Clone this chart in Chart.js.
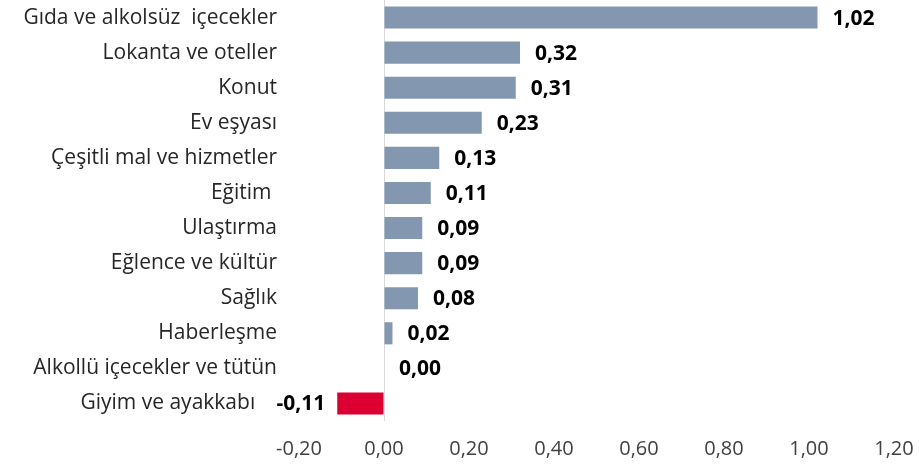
<!DOCTYPE html>
<html>
<head>
<meta charset="utf-8">
<script src="https://cdn.jsdelivr.net/npm/chart.js@4"></script>
<style>
  html, body { margin: 0; padding: 0; background: #fff; }
  #wrap { width: 919px; height: 471px; }
</style>
</head>
<body>
<div id="wrap"><canvas id="barChart"></canvas></div>
<script>
const categories = [
    'Gıda ve alkolsüz  içecekler',
    'Lokanta ve oteller',
    'Konut',
    'Ev eşyası',
    'Çeşitli mal ve hizmetler',
    'Eğitim ',
    'Ulaştırma',
    'Eğlence ve kültür',
    'Sağlık',
    'Haberleşme',
    'Alkollü içecekler ve tütün',
    'Giyim ve ayakkabı    '
];
const values = [1.02, 0.32, 0.31, 0.23, 0.13, 0.11, 0.09, 0.09, 0.08, 0.02, 0.00, -0.11];
const tickValues = [-0.2, 0, 0.2, 0.4, 0.6, 0.8, 1.0, 1.2];

const fmt = v => v.toFixed(2).replace('.', ',');

// bold value labels at the bar ends
const valueLabels = {
    id: 'valueLabels',
    afterDatasetsDraw(chart) {
        const ctx = chart.ctx;
        const meta = chart.getDatasetMeta(0);
        ctx.save();
        ctx.font = 'bold 21px "Open Sans"';
        ctx.fillStyle = '#000';
        ctx.textBaseline = 'middle';
        meta.data.forEach((bar, i) => {
            const v = values[i];
            if (v < 0) {
                ctx.textAlign = 'right';
                ctx.fillText(fmt(v), bar.x - 12, bar.y + 1);
            } else {
                ctx.textAlign = 'left';
                ctx.fillText(fmt(v), bar.x + 15, bar.y + 1);
            }
        });
        ctx.restore();
    }
};

new Chart(document.getElementById('barChart'), {
    type: 'bar',
    data: {
        labels: categories,
        datasets: [{
            data: values,
            backgroundColor: values.map(v => v < 0 ? '#dc0032' : '#8497b0'),
            categoryPercentage: 0.63,
            barPercentage: 1
        }]
    },
    options: {
        indexAxis: 'y',
        responsive: true,
        maintainAspectRatio: false,
        animation: false,
        layout: { padding: { top: 0, right: 25, bottom: 10, left: 0 } },
        plugins: {
            legend: { display: false },
            tooltip: { enabled: false }
        },
        scales: {
            x: {
                min: -0.2,
                max: 1.2,
                afterBuildTicks: s => { s.ticks = tickValues.map(v => ({ value: v })); },
                afterFit: s => { s.height = 40; s.paddingLeft = 0; s.paddingRight = 0; },
                border: { display: false },
                grid: {
                    drawTicks: false,
                    color: c => (c.tick && Math.abs(c.tick.value) < 1e-9) ? '#d9d9d9' : 'rgba(0,0,0,0)'
                },
                ticks: {
                    padding: 16,
                    color: '#404040',
                    font: { family: '"Open Sans"', size: 20 },
                    callback: v => fmt(v)
                }
            },
            y: {
                afterFit: s => { s.width = 299; s.paddingTop = 0; s.paddingBottom = 0; },
                border: { display: false },
                grid: { display: false, drawTicks: false },
                ticks: {
                    padding: 22,
                    color: '#262626',
                    font: { family: '"Open Sans"', size: 21 }
                }
            }
        }
    },
    plugins: [valueLabels]
});
</script>
</body>
</html>
